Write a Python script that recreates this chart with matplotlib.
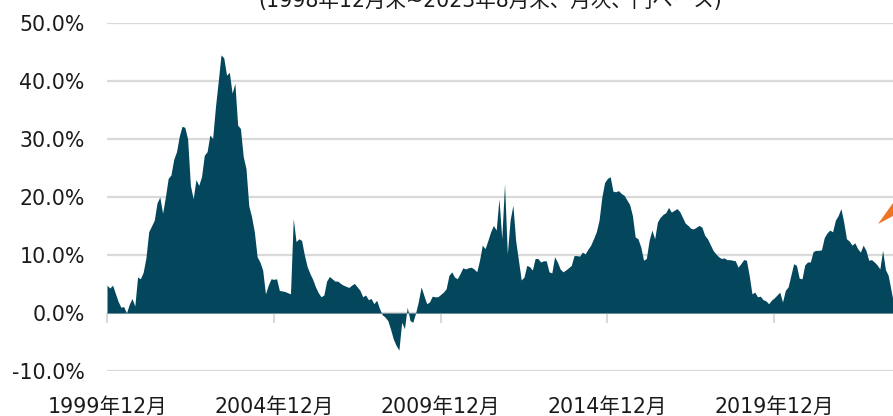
import matplotlib
matplotlib.use("Agg")
import matplotlib.pyplot as plt
import numpy as np
from matplotlib.patches import Polygon

# Monthly 1-year rolling return (%), 1999/12 .. 2023/8
values = [
    4.8, 4.3, 4.8, 3.4, 2.0, 1.0, 1.1, 0.0, 1.5, 2.5,
    1.2, 6.2, 5.9, 7.0, 9.5, 14.0, 15.0, 16.0, 19.0, 20.0,
    17.2, 20.0, 23.2, 23.8, 26.5, 27.8, 30.5, 32.2, 32.0, 30.0,
    22.0, 19.7, 23.0, 22.0, 23.5, 27.2, 27.8, 30.7, 30.1, 35.5,
    39.9, 44.5, 44.0, 41.0, 41.5, 37.9, 39.6, 32.4, 31.8, 27.0,
    24.9, 18.5, 16.6, 14.0, 9.7, 8.8, 7.4, 3.3, 4.8, 5.9,
    5.8, 5.9, 3.9, 3.8, 3.7, 3.5, 3.3, 16.3, 12.3, 12.8,
    12.5, 10.0, 8.0, 6.8, 5.8, 4.5, 3.5, 2.8, 3.1, 5.5,
    6.3, 5.9, 5.5, 5.5, 5.1, 4.8, 4.6, 4.4, 4.8, 5.1,
    4.5, 3.9, 2.8, 3.1, 2.3, 2.5, 1.6, 2.2, 0.8, -0.3,
    -0.7, -1.3, -2.8, -4.5, -5.6, -6.4, -1.6, -2.7, 1.0, -1.3,
    -1.6, 0.0, 2.0, 4.5, 3.0, 1.6, 1.9, 2.9, 2.8, 2.8,
    3.2, 3.6, 4.2, 6.5, 7.1, 6.2, 5.9, 6.8, 7.8, 7.6,
    7.8, 7.9, 7.6, 7.1, 9.1, 11.7, 11.1, 12.5, 14.0, 15.1,
    14.3, 19.7, 12.8, 22.3, 10.2, 16.0, 18.6, 12.5, 9.1, 5.7,
    6.2, 8.2, 8.0, 7.4, 9.4, 9.4, 8.8, 9.0, 9.0, 7.1,
    6.9, 9.7, 8.8, 7.6, 7.1, 7.4, 7.8, 8.2, 9.9, 9.9,
    9.8, 10.5, 10.2, 11.0, 11.7, 12.8, 14.0, 16.0, 20.0, 22.5,
    23.2, 23.5, 21.0, 20.9, 21.1, 20.6, 20.3, 19.5, 18.7, 16.8,
    13.1, 12.8, 11.4, 9.1, 9.4, 12.5, 14.3, 12.8, 15.7, 16.5,
    17.0, 17.3, 18.2, 17.4, 17.7, 18.0, 17.5, 16.5, 15.5, 15.1,
    14.6, 14.5, 14.8, 15.1, 14.8, 13.4, 12.8, 11.8, 10.8, 10.2,
    9.7, 9.4, 9.5, 9.2, 9.2, 9.1, 9.0, 7.9, 8.5, 9.2,
    9.1, 6.5, 3.3, 3.6, 2.8, 2.9, 2.3, 2.1, 1.6, 2.2,
    2.6, 3.1, 3.6, 1.9, 3.9, 4.5, 6.5, 8.5, 8.2, 6.0,
    5.9, 8.3, 8.8, 8.8, 10.6, 10.8, 10.8, 10.9, 13.0, 13.8,
    14.3, 14.0, 16.0, 16.8, 18.0, 15.7, 12.8, 12.4, 11.7, 12.1,
    11.1, 10.5, 11.7, 10.8, 9.1, 9.2, 8.8, 8.3, 7.6, 10.8,
    7.5, 6.5, 4.0, 1.5, 0.5,
]
tick_months = [0, 60, 120, 180, 240]
tick_labels = ["1999年12月", "2004年12月", "2009年12月", "2014年12月", "2019年12月"]
y_ticks = [-10, 0, 10, 20, 30, 40, 50]
title = "(1998年12月末~2023年8月末、月次、円ベース)"

FAM = ["DejaVu Sans", "Noto Sans CJK JP"]
plt.rcParams["font.family"] = FAM

W, H = 893, 416
fig = plt.figure(figsize=(W / 100, H / 100), dpi=100)
ax = fig.add_axes([107 / W, (H - 371) / H, (W - 107) / W, (371 - 23) / H])

x = np.arange(len(values))
y = np.array(values)
ax.fill_between(x, 0, y, color="#04475C", lw=0, zorder=3)

ax.set_xlim(0, (893 - 107) / 2.78)
ax.set_ylim(-10, 50)
ax.set_yticks(y_ticks)
ax.set_yticklabels([f"{v:.1f}%" for v in y_ticks], fontsize=14.8, color="#1a1a1a")
ax.tick_params(axis="y", length=0, pad=16)
ax.grid(axis="y", color="#d9d9d9", lw=1.6, zorder=1)
ax.set_axisbelow(True)
for s in ax.spines.values():
    s.set_visible(False)

ax.set_xticks(tick_months)
ax.set_xticklabels(tick_labels, fontsize=14.8, color="#1a1a1a")
ax.tick_params(axis="x", length=0, pad=19)

# tick marks on the zero line
sec = ax.secondary_xaxis(10 / 60)
sec.set_xticks(tick_months)
sec.set_xticklabels([])
sec.tick_params(axis="x", length=7, width=1.5, color="#d9d9d9", direction="out")
sec.spines["bottom"].set_visible(False)

fig.text(490 / W, 1 - 7.5 / H, title, ha="center", va="baseline",
         fontsize=14.8, color="#1a1a1a", family=FAM)

# orange arrow head, partially visible at the right edge
arrow = Polygon([(878 / W, 1 - 224 / H), (893 / W, 1 - 203 / H), (893 / W, 1 - 216 / H)],
                closed=True, transform=fig.transFigure, color="#EE7623", lw=0)
fig.patches.append(arrow)

fig.savefig("out.png", dpi=100)
